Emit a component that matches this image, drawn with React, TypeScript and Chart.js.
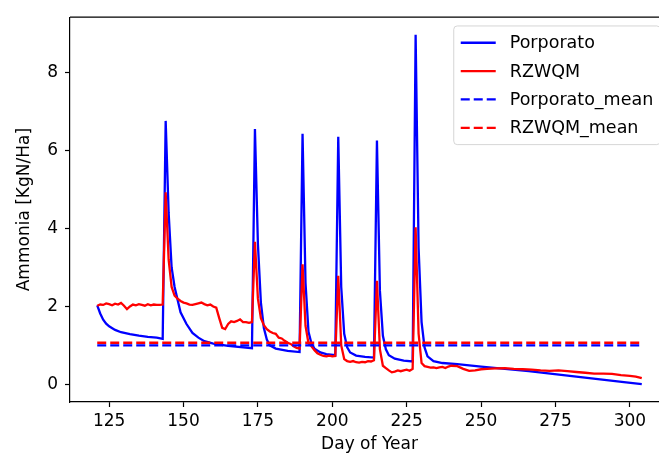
import React, { useEffect, useRef } from "react";
import { Chart, registerables } from "chart.js";
Chart.register(...registerables);

// ---- data ----
const porporatoDays = [
  121, 122, 123, 124, 125, 127, 129, 132, 135, 138, 141, 143,
  144, 145, 146, 147, 149, 151, 153, 155, 157, 160, 165, 173,
  174, 175, 176, 177, 178, 179, 181, 185, 189,
  190, 191, 192, 193, 194, 196, 198, 201,
  202, 203, 204, 205, 206, 208, 211, 214,
  215, 216, 217, 218, 219, 221, 224, 227,
  228, 229, 230, 231, 232, 234, 237, 242, 250, 258, 266, 274, 282, 290, 298, 304,
];
const porporatoValues = [
  2.03, 1.82, 1.66, 1.56, 1.49, 1.40, 1.34, 1.29, 1.25, 1.22, 1.20, 1.17,
  6.76, 4.4, 3.0, 2.5, 1.85, 1.55, 1.32, 1.2, 1.11, 1.05, 0.99, 0.93,
  6.55, 3.6, 2.1, 1.45, 1.15, 1.0, 0.92, 0.86, 0.83,
  6.43, 2.6, 1.35, 1.05, 0.92, 0.82, 0.78, 0.75,
  6.35, 2.5, 1.3, 0.95, 0.82, 0.74, 0.71, 0.69,
  6.26, 2.4, 1.25, 0.9, 0.75, 0.66, 0.61, 0.59,
  8.97, 3.5, 1.6, 0.95, 0.72, 0.6, 0.55, 0.52, 0.46, 0.40, 0.34, 0.27, 0.20, 0.13, 0.06, 0.01,
];
const rzwqmDays = [
  121, 122, 123, 124, 125, 126, 127, 128, 129, 130, 131, 132, 133, 134, 135, 136, 137, 138, 139, 140, 141, 142, 143,
  144, 145, 146, 147, 148, 149, 150, 151, 152, 153, 154, 155, 156, 157, 158, 159, 160, 161, 162, 163, 164, 165,
  166, 167, 168, 169, 170, 171, 172, 173,
  174, 175, 176, 177, 178, 179, 180, 181, 182, 183, 184, 185, 186, 187, 188, 189,
  190, 191, 192, 193, 194, 195, 196, 197, 198, 199, 200, 201,
  202, 203, 204, 205, 206, 207, 208, 209, 210, 211, 212, 213, 214,
  215, 216, 217, 218, 219, 220, 221, 222, 223, 224, 225, 226, 227,
  228, 229, 230, 231, 232, 233, 234, 235, 236, 237, 238, 239, 240, 242, 244, 246, 248, 250, 252, 255, 258,
  261, 264, 267, 270, 273, 276, 279, 282, 285, 288, 291, 294, 297, 300, 302, 304,
];
const rzwqmValues = [
  2.02, 2.05, 2.04, 2.08, 2.06, 2.03, 2.07, 2.05, 2.09, 2.02, 1.93, 2.0, 2.05, 2.03, 2.06, 2.04, 2.02, 2.06, 2.03, 2.05, 2.04, 2.04, 2.05,
  4.93, 3.2, 2.5, 2.28, 2.2, 2.14, 2.1, 2.08, 2.05, 2.04, 2.06, 2.08, 2.1, 2.06, 2.03, 2.05, 2.0, 1.97, 1.7, 1.45, 1.42, 1.55,
  1.62, 1.6, 1.63, 1.67, 1.6, 1.6, 1.58, 1.6,
  3.66, 2.2, 1.7, 1.52, 1.42, 1.36, 1.32, 1.3, 1.2, 1.18, 1.12, 1.07, 1.04, 0.98, 0.94, 0.92,
  3.08, 1.5, 1.05, 0.98, 0.88, 0.8, 0.76, 0.73, 0.72, 0.74, 0.72, 0.73,
  2.79, 1.0, 0.65, 0.6, 0.58, 0.6, 0.57, 0.56, 0.58, 0.57, 0.6, 0.59, 0.62,
  2.66, 0.9, 0.48, 0.42, 0.36, 0.31, 0.33, 0.36, 0.34, 0.36, 0.38, 0.35, 0.4,
  4.03, 1.3, 0.55, 0.47, 0.45, 0.43, 0.44, 0.42, 0.44, 0.45, 0.42, 0.46, 0.48, 0.47, 0.4, 0.35, 0.36, 0.39, 0.4, 0.41, 0.42,
  0.4, 0.39, 0.38, 0.36, 0.35, 0.36, 0.34, 0.32, 0.3, 0.28, 0.28, 0.27, 0.24, 0.22, 0.2, 0.16,
];
const porporatoMean = 1.0;
const rzwqmMean = 1.07;
const seriesLabels = ["Porporato", "RZWQM", "Porporato_mean", "RZWQM_mean"];
const xTicks = [125, 150, 175, 200, 225, 250, 275, 300];
const yTicks = [0, 2, 4, 6, 8];
const xTitle = "Day of Year";
const yTitle = "Ammonia [KgN/Ha]";

// ---- style ----
const FONT = 17;
const LEGEND_FONT = 17.5;
const FAMILY = '"DejaVu Sans", sans-serif';
const LW = 2.3;
const DASH = [9, 4];
const CANVAS_W = 690;
const CANVAS_H = 459;
const AREA_RIGHT = 669;

const framePlugin = {
  id: "frame",
  afterDraw(chart: any) {
    const { ctx, chartArea: a } = chart;
    ctx.save();
    ctx.strokeStyle = "#000";
    ctx.lineWidth = 1.2;
    ctx.beginPath();
    ctx.moveTo(a.left, a.top);
    ctx.lineTo(a.right, a.top);
    ctx.lineTo(a.right, a.bottom);
    ctx.stroke();
    ctx.restore();
  },
};

const legendPlugin = {
  id: "mplLegend",
  afterDraw(chart: any) {
    const { ctx, chartArea: a } = chart;
    const fs = LEGEND_FONT;
    ctx.save();
    ctx.font = `${fs}px ${FAMILY}`;
    const items = chart.data.datasets.map((ds: any) => ({
      label: ds.label,
      color: ds.borderColor,
      dash: ds.borderDash || [],
    }));
    const textW = Math.max(...items.map((i: any) => ctx.measureText(i.label).width));
    const pad = 0.4 * fs;
    const handle = 2 * fs;
    const htp = 0.8 * fs;
    const textH = 1.12 * fs;
    const spacing = 0.5 * fs;
    const w = pad * 2 + handle + htp + textW;
    const h = pad * 2 + items.length * textH + (items.length - 1) * spacing;
    const right = a.right - 0.5 * fs;
    const top = a.top + 0.5 * fs;
    const left = right - w;
    const r = 0.2 * fs;
    ctx.beginPath();
    ctx.moveTo(left + r, top);
    ctx.lineTo(right - r, top);
    ctx.quadraticCurveTo(right, top, right, top + r);
    ctx.lineTo(right, top + h - r);
    ctx.quadraticCurveTo(right, top + h, right - r, top + h);
    ctx.lineTo(left + r, top + h);
    ctx.quadraticCurveTo(left, top + h, left, top + h - r);
    ctx.lineTo(left, top + r);
    ctx.quadraticCurveTo(left, top, left + r, top);
    ctx.closePath();
    ctx.fillStyle = "rgba(255,255,255,0.8)";
    ctx.fill();
    ctx.strokeStyle = "rgba(204,204,204,0.8)";
    ctx.lineWidth = 1;
    ctx.stroke();
    items.forEach((it: any, i: number) => {
      const cy = top + pad + i * (textH + spacing) + textH / 2;
      ctx.beginPath();
      ctx.setLineDash(it.dash);
      ctx.strokeStyle = it.color;
      ctx.lineWidth = LW;
      ctx.moveTo(left + pad, cy);
      ctx.lineTo(left + pad + handle, cy);
      ctx.stroke();
      ctx.setLineDash([]);
      ctx.fillStyle = "#000";
      ctx.textBaseline = "middle";
      ctx.textAlign = "left";
      ctx.fillText(it.label, left + pad + handle + htp, cy + 1);
    });
    ctx.restore();
  },
};

export default function App() {
  const ref = useRef<HTMLCanvasElement>(null);
  useEffect(() => {
    const canvas = ref.current!;
    const pts = (xs: number[], ys: number[]) => xs.map((x, i) => ({ x, y: ys[i] }));
    const first = porporatoDays[0];
    const last = porporatoDays[porporatoDays.length - 1];
    const meanPts = (m: number) => [
      { x: first, y: m },
      { x: last, y: m },
    ];
    const base = { pointRadius: 0, tension: 0, fill: false, borderWidth: LW };
    const tickFont = { family: FAMILY, size: FONT };
    const chart = new Chart(canvas, {
      type: "line",
      data: {
        datasets: [
          { ...base, label: seriesLabels[0], data: pts(porporatoDays, porporatoValues), borderColor: "#0000ff", order: 4 },
          { ...base, label: seriesLabels[1], data: pts(rzwqmDays, rzwqmValues), borderColor: "#ff0000", order: 3 },
          { ...base, label: seriesLabels[2], data: meanPts(porporatoMean), borderColor: "#0000ff", borderDash: DASH, order: 2 },
          { ...base, label: seriesLabels[3], data: meanPts(rzwqmMean), borderColor: "#ff0000", borderDash: DASH, order: 1 },
        ],
      } as any,
      options: {
        responsive: false,
        animation: false,
        devicePixelRatio: 1,
        layout: { padding: { left: 0, right: CANVAS_W - AREA_RIGHT, top: 10, bottom: 0 } },
        plugins: { legend: { display: false }, tooltip: { enabled: false } },
        scales: {
          x: {
            type: "linear",
            min: 111.85,
            max: 313.15,
            afterBuildTicks: (s: any) => {
              s.ticks = xTicks.map((v) => ({ value: v }));
            },
            afterFit: (s: any) => {
              s.height = 57;
            },
            grid: { display: true, drawOnChartArea: false, drawTicks: true, tickLength: 5, tickColor: "#000", tickWidth: 1.2 },
            border: { display: true, color: "#000", width: 1.2 },
            ticks: { font: tickFont, color: "#000", padding: 4, maxRotation: 0, autoSkip: false },
            title: { display: true, text: xTitle, font: tickFont, color: "#000", padding: { top: 0, bottom: 4 } },
          },
          y: {
            type: "linear",
            min: -0.45,
            max: 9.42,
            afterBuildTicks: (s: any) => {
              s.ticks = yTicks.map((v) => ({ value: v }));
            },
            afterFit: (s: any) => {
              s.width = 70;
            },
            grid: { display: true, drawOnChartArea: false, drawTicks: true, tickLength: 5, tickColor: "#000", tickWidth: 1.2 },
            border: { display: true, color: "#000", width: 1.2 },
            ticks: { font: tickFont, color: "#000", padding: 7 },
            title: { display: true, text: yTitle, font: tickFont, color: "#000", padding: { top: 14, bottom: 0 } },
          },
        },
      } as any,
      plugins: [framePlugin, legendPlugin],
    });
    return () => chart.destroy();
  }, []);
  return (
    <div style={{ position: "fixed", left: 0, top: 0, width: 659, height: 459, overflow: "hidden", background: "#fff" }}>
      <canvas ref={ref} width={CANVAS_W} height={CANVAS_H} style={{ display: "block" }} />
    </div>
  );
}
